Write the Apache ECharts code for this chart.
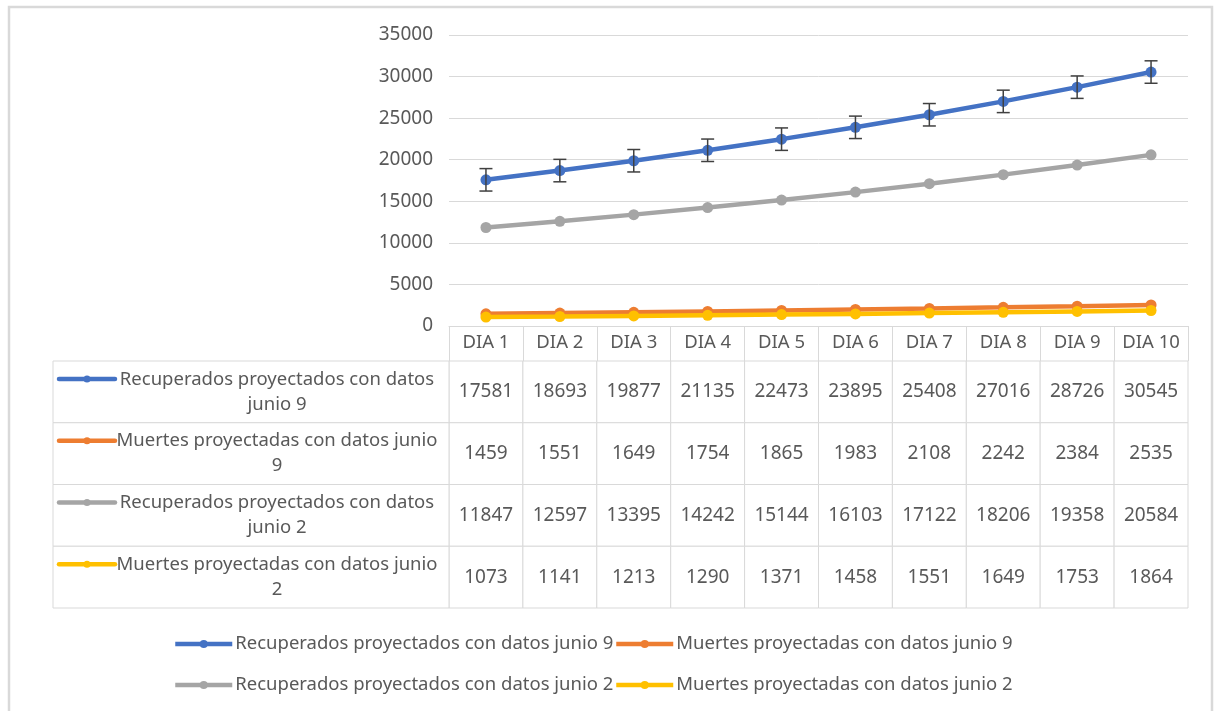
<!DOCTYPE html>
<html><head><meta charset="utf-8">
<script src="https://cdn.jsdelivr.net/npm/echarts@6/dist/echarts.min.js"></script>
<style>html,body{margin:0;padding:0;background:#fff}#c{width:1215px;height:711px}</style>
</head><body><div id="c"></div>
<script>
// ---- data ----
const categories = ['DIA 1','DIA 2','DIA 3','DIA 4','DIA 5','DIA 6','DIA 7','DIA 8','DIA 9','DIA 10'];
const seriesNames = [
  'Recuperados proyectados con datos junio 9',
  'Muertes proyectadas con datos junio 9',
  'Recuperados proyectados con datos junio 2',
  'Muertes proyectadas con datos junio 2'
];
const tableLabels = [
  'Recuperados proyectados con datos\njunio 9',
  'Muertes proyectadas con datos junio\n9',
  'Recuperados proyectados con datos\njunio 2',
  'Muertes proyectadas con datos junio\n2'
];
const recuperados9 = [17581,18693,19877,21135,22473,23895,25408,27016,28726,30545];
const muertes9     = [1459,1551,1649,1754,1865,1983,2108,2242,2384,2535];
const recuperados2 = [11847,12597,13395,14242,15144,16103,17122,18206,19358,20584];
const muertes2     = [1073,1141,1213,1290,1371,1458,1551,1649,1753,1864];
const errorRecuperados9 = 1350;   // error bar half-length
const yMin = 0, yMax = 35000, yStep = 5000;

// ---- style / layout ----
const colors = ['#4472C4','#ED7D31','#A5A5A5','#FFC000'];
const TXT = '#595959', GRIDC = '#d9d9d9';
const FONT = 'Noto Sans', FSN = 19, FST = 18.5;
const GL = 449, GR = 27, CT = 35, CB = 711-326, TT = 361, TB = 711-608, LABEL_LEFT = 53;

const allSeries = [recuperados9, muertes9, recuperados2, muertes2];

const cellData = [];
allSeries.forEach((arr, r) => arr.forEach((v, i) => cellData.push([i, r, v])));
const rowData = tableLabels.map((t, r) => [0, r, t]);
const errData = recuperados9.map((v, i) => [i, v, errorRecuperados9]);

const legendBase = {
  orient:'vertical', top:634, padding:0,
  itemWidth:57, itemHeight:10, itemGap:21, selectedMode:false,
  lineStyle:{width:4.5},
  textStyle:{color:TXT, fontSize:FST, fontFamily:FONT, lineHeight:20, padding:[0,0,0,-2]}
};

const chart = echarts.init(document.getElementById('c'), null, {renderer:'canvas'});
chart.setOption({
  animation: false,
  backgroundColor: '#fff',
  graphic: [{
    type:'rect', silent:true, z:-10,
    shape:{x:9, y:7, width:1203, height:730},
    style:{fill:'none', stroke:GRIDC, lineWidth:2.5}
  }],
  grid: [
    {left:GL, right:GR, top:CT, bottom:CB},
    {left:GL, right:GR, top:TT, bottom:TB}
  ],
  xAxis: [
    {type:'category', gridIndex:0, data:categories, boundaryGap:true,
     axisLine:{lineStyle:{color:GRIDC, width:1}},
     axisTick:{show:true, interval:0, length:35, lineStyle:{color:GRIDC}},
     axisLabel:{interval:0, margin:7, color:TXT, fontSize:FST, fontFamily:FONT},
     splitLine:{show:false}},
    {type:'category', gridIndex:1, data:categories, boundaryGap:true, show:false}
  ],
  yAxis: [
    {type:'value', gridIndex:0, min:yMin, max:yMax, interval:yStep,
     axisLine:{show:false}, axisTick:{show:false},
     axisLabel:{margin:16, color:TXT, fontSize:FSN, fontFamily:FONT, formatter: v => String(v)},
     splitLine:{lineStyle:{color:GRIDC, width:1}}},
    {type:'category', gridIndex:1, data:tableLabels.map((_, i) => String(i)), inverse:true, show:false}
  ],
  legend: [
    Object.assign({data:[seriesNames[0], seriesNames[2]], left:173}, legendBase),
    Object.assign({data:[seriesNames[1], seriesNames[3]], left:614}, legendBase)
  ],
  series: [
    ...allSeries.map((arr, k) => ({
      name: seriesNames[k], type:'line', xAxisIndex:0, yAxisIndex:0,
      data: arr, symbol:'circle', symbolSize:11, showSymbol:true,
      lineStyle:{color:colors[k], width:4.5},
      itemStyle:{color:colors[k]},
      z: 2 + k
    })),
    {
      type:'custom', name:'err', xAxisIndex:0, yAxisIndex:0, z:20,
      data: errData, encode:{x:0, y:1},
      renderItem: (params, api) => {
        const x = api.value(0), v = api.value(1), e = api.value(2);
        const hi = api.coord([x, v + e]), lo = api.coord([x, v - e]);
        const cw = 6.5;
        const st = {stroke:'#404040', lineWidth:1.5};
        return {type:'group', children:[
          {type:'line', shape:{x1:hi[0], y1:hi[1], x2:lo[0], y2:lo[1]}, style:st},
          {type:'line', shape:{x1:hi[0]-cw, y1:hi[1], x2:hi[0]+cw, y2:hi[1]}, style:st},
          {type:'line', shape:{x1:lo[0]-cw, y1:lo[1], x2:lo[0]+cw, y2:lo[1]}, style:st}
        ]};
      }
    },
    {
      type:'custom', name:'cells', xAxisIndex:1, yAxisIndex:1, z:5,
      data: cellData, encode:{x:0, y:1},
      renderItem: (params, api) => {
        const c = api.coord([api.value(0), api.value(1)]);
        const s = api.size([1, 1]);
        return {type:'group', children:[
          {type:'rect', shape:{x:c[0]-s[0]/2, y:c[1]-s[1]/2, width:s[0], height:s[1]},
           style:{fill:'#fff', stroke:GRIDC, lineWidth:1}},
          {type:'text', style:{text:String(api.value(2)), x:c[0], y:c[1], align:'center', verticalAlign:'middle',
           fill:TXT, fontSize:FSN, fontFamily:FONT}}
        ]};
      }
    },
    {
      type:'custom', name:'rows', xAxisIndex:1, yAxisIndex:1, z:5, clip:false,
      data: rowData, encode:{x:0, y:1},
      renderItem: (params, api) => {
        const r = api.value(1);
        const c = api.coord([0, r]);
        const s = api.size([1, 1]);
        const top = c[1] - s[1]/2, h = s[1], cy = c[1];
        const col = colors[params.dataIndex];
        return {type:'group', children:[
          {type:'rect', shape:{x:LABEL_LEFT, y:top, width:GL-LABEL_LEFT, height:h},
           style:{fill:'#fff', stroke:GRIDC, lineWidth:1}},
          {type:'line', shape:{x1:59, y1:cy-13, x2:115, y2:cy-13},
           style:{stroke:col, lineWidth:4.5, lineCap:'round'}},
          {type:'circle', shape:{cx:87, cy:cy-13, r:3.5}, style:{fill:col}},
          {type:'text', style:{text:tableLabels[params.dataIndex], x:277, y:cy, align:'center', verticalAlign:'middle',
           lineHeight:25, fill:TXT, fontSize:FST, fontFamily:FONT}}
        ]};
      }
    }
  ]
});
</script></body></html>
